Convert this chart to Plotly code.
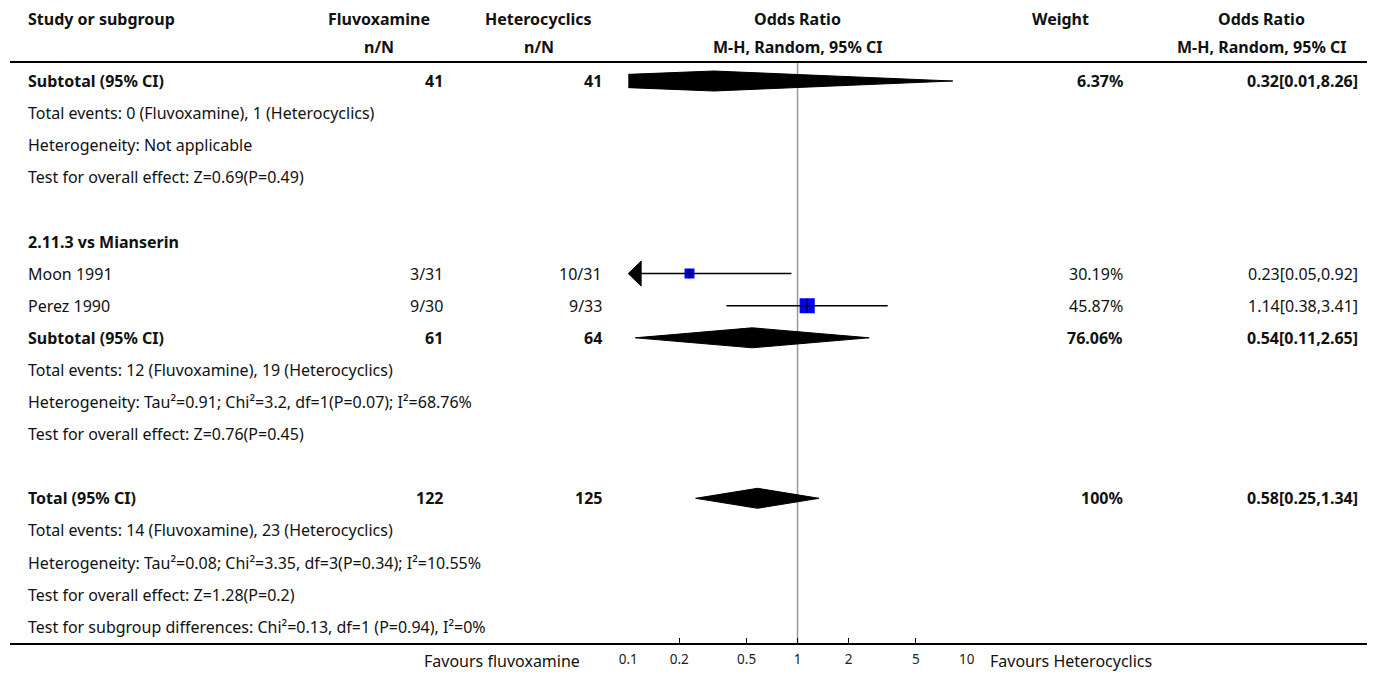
import numpy as np
import plotly.graph_objects as go

# ---------------- data ----------------
study_names = ["Moon 1991", "Perez 1990"]
flu_events = [3, 9]
flu_totals = [31, 30]
het_events = [10, 9]
het_totals = [31, 33]
study_or = [0.23, 1.14]
study_lo = [0.05, 0.38]
study_hi = [0.92, 3.41]
study_weight = [30.19, 45.87]

summary_labels = ["Subtotal (95% CI)", "Subtotal (95% CI)", "Total (95% CI)"]
summary_flu_n = [41, 61, 122]
summary_het_n = [41, 64, 125]
summary_or = [0.32, 0.54, 0.58]
summary_lo = [0.01, 0.11, 0.25]
summary_hi = [8.26, 2.65, 1.34]
summary_weight = ["6.37%", "76.06%", "100%"]

tick_vals = [0.1, 0.2, 0.5, 1, 2, 5, 10]
tick_text = ["0.1", "0.2", "0.5", "1", "2", "5", "10"]

# row layout (row index -> content)
summary_rows = [0, 8, 13]
study_rows = [6, 7]
group_header = (5, "2.11.3 vs Mianserin")
info_lines = [
    (1, "Total events: 0 (Fluvoxamine), 1 (Heterocyclics)"),
    (2, "Heterogeneity: Not applicable"),
    (3, "Test for overall effect: Z=0.69(P=0.49)"),
    (9, "Total events: 12 (Fluvoxamine), 19 (Heterocyclics)"),
    (10, "Heterogeneity: Tau²=0.91; Chi²=3.2, df=1(P=0.07); I²=68.76%"),
    (11, "Test for overall effect: Z=0.76(P=0.45)"),
    (14, "Total events: 14 (Fluvoxamine), 23 (Heterocyclics)"),
    (15, "Heterogeneity: Tau²=0.08; Chi²=3.35, df=3(P=0.34); I²=10.55%"),
    (16, "Test for overall effect: Z=1.28(P=0.2)"),
    (17, "Test for subgroup differences: Chi²=0.13, df=1 (P=0.94), I²=0%"),
]

# ---------------- geometry (pixels) ----------------
W, H = 1375, 677
ROW0, ROWH = 81.0, 32.1          # pixel y of row 0, row height
AX_BOTTOM = 644.0                 # pixel y of axis line
X_LEFT, X_RIGHT = 626.5, 969.5    # pixel x of 0.1 and 10

C_STUDY = 18
C_FLU_H, C_FLU_V = 374, 439
C_HET_H, C_HET_V = 536, 600
C_OR_H = 798
C_W_H, C_W_V = 1064, 1128
C_ORV_H, C_ORV_V = 1268, 1366


def row_of(py):
    return (py - ROW0) / ROWH


def px(x):
    return x / W


FONT = "'Noto Sans', 'Open Sans', sans-serif"
FS = 16
TXT = "#111111"

fig = go.Figure()

# summary diamonds
DH = 10 / ROWH
for r, o, lo, hi in zip(summary_rows, summary_or, summary_lo, summary_hi):
    fig.add_trace(go.Scatter(
        x=[lo, o, hi, o, lo], y=[r, r - DH, r, r + DH, r],
        mode="lines", fill="toself", fillcolor="black",
        line=dict(color="black", width=1), hoverinfo="skip", showlegend=False))

# study CI lines, squares, ticks
for r, o, lo, hi, w in zip(study_rows, study_or, study_lo, study_hi, study_weight):
    fig.add_trace(go.Scatter(
        x=[o], y=[r], mode="markers",
        marker=dict(symbol="square", size=w * 0.33, color="#0000ff", line=dict(width=0)),
        hoverinfo="skip", showlegend=False))
    fig.add_trace(go.Scatter(
        x=[max(lo, tick_vals[0]), hi], y=[r, r], mode="lines",
        line=dict(color="black", width=1.5), hoverinfo="skip", showlegend=False))
    fig.add_trace(go.Scatter(
        x=[o], y=[r], mode="markers",
        marker=dict(symbol="line-ns", size=w * 0.22, color="black",
                    line=dict(color="black", width=1.5)),
        hoverinfo="skip", showlegend=False))
    if lo < tick_vals[0]:
        # arrow showing CI beyond the axis range
        base = tick_vals[0] * 10 ** (13 / ((X_RIGHT - X_LEFT) / 2))
        ah = 12.5 / ROWH
        fig.add_trace(go.Scatter(
            x=[tick_vals[0], base, base, tick_vals[0]], y=[r, r - ah, r + ah, r],
            mode="lines", fill="toself", fillcolor="black",
            line=dict(color="black", width=1), hoverinfo="skip", showlegend=False))

# ---------------- text ----------------
ann = []


def text(x, row, s, anchor="left", bold=False, size=FS, yref="y"):
    if bold:
        s = "<b>" + s + "</b>"
    ann.append(dict(x=px(x), y=row, xref="paper", yref=yref, text=s, showarrow=False,
                    xanchor=anchor, yanchor="middle", borderpad=0, borderwidth=0,
                    font=dict(family=FONT, size=size, color=TXT)))


hr1, hr2 = row_of(19), row_of(47)
text(C_STUDY, hr1, "Study or subgroup", bold=True)
text(C_FLU_H, hr1, "Fluvoxamine", "center", True)
text(C_FLU_H, hr2, "n/N", "center", True)
text(C_HET_H, hr1, "Heterocyclics", "center", True)
text(C_HET_H, hr2, "n/N", "center", True)
text(C_OR_H, hr1, "Odds Ratio", "center", True)
text(C_OR_H, hr2, "M-H, Random, 95% CI", "center", True)
text(C_W_H, hr1, "Weight", "center", True)
text(C_ORV_H, hr1, "Odds Ratio", "center", True)
text(C_ORV_H, hr2, "M-H, Random, 95% CI", "center", True)

for r, lab, fn, hn, o, lo, hi, w in zip(summary_rows, summary_labels, summary_flu_n, summary_het_n,
                                         summary_or, summary_lo, summary_hi, summary_weight):
    text(C_STUDY, r, lab, bold=True)
    text(C_FLU_V, r, str(fn), "right", True)
    text(C_HET_V, r, str(hn), "right", True)
    text(C_W_V, r, w, "right", True)
    text(C_ORV_V, r, f"{o}[{lo},{hi}]", "right", True)

text(C_STUDY, group_header[0], group_header[1], bold=True)

for r, nm, fe, ft, he, ht, o, lo, hi, w in zip(study_rows, study_names, flu_events, flu_totals,
                                                het_events, het_totals, study_or, study_lo,
                                                study_hi, study_weight):
    text(C_STUDY, r, nm)
    text(C_FLU_V, r, f"{fe}/{ft}", "right")
    text(C_HET_V, r, f"{he}/{ht}", "right")
    text(C_W_V, r, f"{w}%", "right")
    text(C_ORV_V, r, f"{o}[{lo},{hi}]", "right")

for r, s in info_lines:
    text(C_STUDY, r, s)

fav_y = (H - 661) / H
text(578, fav_y, "Favours fluvoxamine", "right", yref="paper")
text(993, fav_y, "Favours Heterocyclics", "left", yref="paper")

# ---------------- shapes ----------------
shapes = [
    dict(type="line", xref="paper", yref="y", x0=0, x1=1, y0=row_of(62), y1=row_of(62),
         line=dict(color="black", width=2)),
    dict(type="line", xref="paper", yref="y domain", x0=0, x1=1, y0=0, y1=0,
         line=dict(color="black", width=2)),
    dict(type="line", xref="x", yref="y", x0=1, x1=1, y0=row_of(62), y1=row_of(AX_BOTTOM),
         line=dict(color="#999999", width=1.5), layer="below"),
]

fig.update_layout(
    width=W, height=H,
    margin=dict(l=0, r=0, t=0, b=0),
    paper_bgcolor="white", plot_bgcolor="white",
    showlegend=False,
    annotations=ann,
    shapes=shapes,
    xaxis=dict(type="log", domain=[px(X_LEFT), px(X_RIGHT)], range=[-1, 1],
               tickvals=tick_vals, ticktext=tick_text, ticks="inside", ticklen=6,
               tickwidth=1.2, tickcolor="black", showline=False, showgrid=False,
               zeroline=False, tickfont=dict(family=FONT, size=13.5, color="#222222"),
               ticklabelstandoff=5, fixedrange=True),
    yaxis=dict(domain=[(H - AX_BOTTOM) / H, 1], range=[row_of(AX_BOTTOM), row_of(0)],
               showticklabels=False, showgrid=False, zeroline=False, showline=False,
               ticks="", fixedrange=True),
)

fig.write_html("out.html", post_script="document.body.style.margin='0';",
               config={"displayModeBar": False})
